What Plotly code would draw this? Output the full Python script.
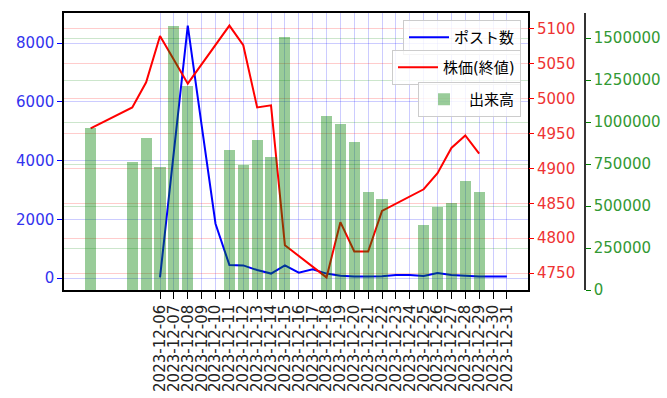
import datetime as dt
import plotly.graph_objects as go

# Daily post counts
post_dates = [f"2023-12-{d:02d}" for d in range(6, 32)]
post_counts = [20, 4300, 8600, 5200, 1850, 440, 430, 270, 150, 430, 180, 300, 150,
               80, 50, 50, 60, 100, 100, 70, 170, 100, 70, 50, 50, 50]

# Trading days: closing price and volume
trade_dates = ["2023-12-01", "2023-12-04", "2023-12-05", "2023-12-06", "2023-12-07",
               "2023-12-08", "2023-12-11", "2023-12-12", "2023-12-13", "2023-12-14",
               "2023-12-15", "2023-12-18", "2023-12-19", "2023-12-20", "2023-12-21",
               "2023-12-22", "2023-12-25", "2023-12-26", "2023-12-27", "2023-12-28",
               "2023-12-29"]
close_price = [4957, 4987, 5023, 5089, 5055, 5021, 5104, 5076, 4987, 4990, 4790,
               4744, 4823, 4781, 4781, 4839, 4870, 4893, 4929, 4947, 4921]
volume = [964000, 762000, 905000, 732000, 1571000, 1214000, 833000, 744000, 893000,
          792000, 1506000, 1036000, 988000, 881000, 583000, 542000, 387000, 494000,
          518000, 649000, 583000]

tick_labels = post_dates

FONT = "DejaVu Sans, Noto Sans CJK JP, sans-serif"
FS = 15
W, H = 667, 398
ML, MR, MT, MB = 64, 0, 13, 108
plot_w = W - ML - MR
ax_right_px = 528
green_px = 585


def pad(lo, hi, frac=0.05):
    span = hi - lo
    return [lo - span * frac, hi + span * frac]


def to_dt(s):
    return dt.datetime.strptime(s, "%Y-%m-%d")


day_ms = 86400000
bar_w = 0.8
xlo = min(to_dt(trade_dates[0]) - dt.timedelta(days=bar_w / 2), to_dt(post_dates[0]))
xhi = max(to_dt(post_dates[-1]), to_dt(trade_dates[-1]) + dt.timedelta(days=bar_w / 2))
span = xhi - xlo
xr = [xlo - span * 0.05, xhi + span * 0.05]

fig = go.Figure()
fig.add_trace(go.Scatter(x=post_dates, y=post_counts, mode="lines", name="ポスト数",
                         line=dict(color="blue", width=2), yaxis="y", legend="legend"))
fig.add_trace(go.Scatter(x=trade_dates, y=close_price, mode="lines", name="株価(終値)",
                         line=dict(color="red", width=2), yaxis="y2", legend="legend2"))
fig.add_trace(go.Bar(x=trade_dates, y=volume, name="出来高", width=bar_w * day_ms,
                     marker=dict(color="rgba(0,128,0,0.4)", line=dict(width=0)),
                     yaxis="y3", legend="legend3"))

dom_end = (ax_right_px - ML) / plot_w
green_pos = (green_px - ML) / plot_w
ph = H - MT - MB

legend_style = dict(bgcolor="rgba(255,255,255,0.8)", bordercolor="#cccccc", borderwidth=1,
                    font=dict(family=FONT, size=FS, color="black"),
                    xanchor="right", yanchor="top", x=(521 - ML) / plot_w,
                    itemwidth=40, tracegroupgap=0)

fig.update_layout(
    width=W, height=H,
    margin=dict(l=ML, r=MR, t=MT, b=MB, autoexpand=False),
    paper_bgcolor="white", plot_bgcolor="white",
    font=dict(family=FONT, size=FS),
    bargap=0,
    xaxis=dict(
        type="date", domain=[0, dom_end], range=xr,
        tickvals=post_dates, ticktext=tick_labels, tickangle=-90,
        tickfont=dict(size=FS, color="#222222"),
        ticks="outside", ticklen=7, tickcolor="black",
        showgrid=True, gridcolor="rgba(0,0,255,0.2)", gridwidth=0.8,
        showline=True, linecolor="black", linewidth=1.5, mirror=True,
        zeroline=False,
    ),
    yaxis=dict(
        range=pad(min(post_counts), max(post_counts)),
        tickvals=[0, 2000, 4000, 6000, 8000], tickformat="d",
        tickfont=dict(size=FS, color="#3333ee"),
        ticks="outside", ticklen=5, tickcolor="blue",
        showgrid=True, gridcolor="rgba(0,0,255,0.2)", gridwidth=0.8,
        showline=True, linecolor="black", linewidth=1.5, mirror=True,
        zeroline=False,
    ),
    yaxis2=dict(
        overlaying="y", side="right", anchor="x",
        range=pad(min(close_price), max(close_price)),
        tickvals=[4750, 4800, 4850, 4900, 4950, 5000, 5050, 5100], tickformat="d",
        tickfont=dict(size=FS, color="#ee3333"),
        ticks="outside", ticklen=5, tickcolor="red",
        showgrid=True, gridcolor="rgba(255,0,0,0.2)", gridwidth=0.8,
        zeroline=False,
    ),
    yaxis3=dict(
        overlaying="y", side="right", anchor="free", position=green_pos,
        range=[0, max(volume) * 1.05],
        tickvals=[0, 250000, 500000, 750000, 1000000, 1250000, 1500000], tickformat="d",
        tickfont=dict(size=FS, color="#339933"),
        ticks="outside", ticklen=5, tickcolor="green",
        showgrid=True, gridcolor="rgba(0,128,0,0.2)", gridwidth=0.8,
        showline=True, linecolor="#333333", linewidth=1.5,
        zeroline=False,
    ),
    legend=dict(legend_style, y=(H - MB - 20) / ph),
    legend2=dict(legend_style, y=(H - MB - 50) / ph),
    legend3=dict(legend_style, y=(H - MB - 82) / ph),
    showlegend=True,
)

fig.write_html("out.html")
